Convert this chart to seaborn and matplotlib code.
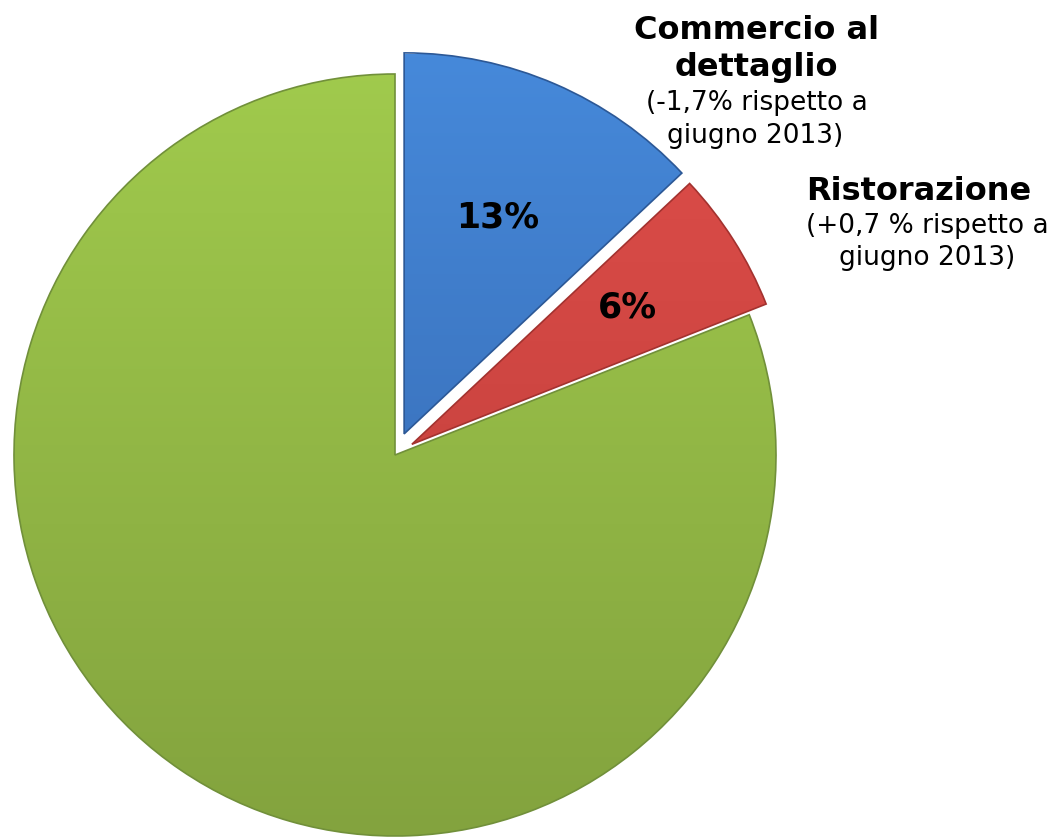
import matplotlib
matplotlib.use("Agg")
import numpy as np
import matplotlib.pyplot as plt
from matplotlib.colors import to_rgb
import seaborn as sns

# dati
categorie = ["Commercio al dettaglio", "Ristorazione", "Altro"]
quote = [13, 6, 81]
titoli = [["Commercio al", "dettaglio"], ["Ristorazione"]]
variazioni = [["(-1,7% rispetto a", "giugno 2013)"], ["(+0,7 % rispetto a", "giugno 2013)"]]

# stile: colori chiari in alto, scuri in basso
col_alto = ["#4689da", "#df4e4a", "#a1cb4d"]
col_basso = ["#3262a8", "#b93b37", "#83a33e"]
bordi = ["#2c5896", "#a3322f", "#71903a"]

sns.set_theme(style="white")
plt.rcParams['font.family'] = ['DejaVu Sans']

W, H = 1061, 838
fig = plt.figure(figsize=(W / 100, H / 100), dpi=100)
ax = fig.add_axes([0, 0, 1, 1])

wedges, texts, autotexts = ax.pie(
    quote,
    explode=[23, 20, 0],
    colors=col_basso,
    startangle=90,
    counterclock=False,
    center=(395, H - 455),
    radius=381,
    frame=True,
    autopct=lambda p: f"{p:.0f}%" if p < 50 else "",
    pctdistance=0.62,
    wedgeprops=dict(linewidth=1.2),
    textprops=dict(fontsize=25, fontweight="bold", color="black"),
)

# sfumatura verticale dentro ogni fetta
t = np.linspace(0, 1, 256)[:, None]
for w, ca, cb, b in zip(wedges, col_alto, col_basso, bordi):
    a, c = np.array(to_rgb(ca)), np.array(to_rgb(cb))
    img = (a[None, None, :] * (1 - t[..., None]) + c[None, None, :] * t[..., None])
    im = ax.imshow(img, extent=(0, W, H - 836, H - 55), aspect="auto",
                   origin="upper", zorder=w.get_zorder() + 0.1)
    im.set_clip_path(w)
    w.set_edgecolor(b)
    w.set_zorder(w.get_zorder() + 0.2)
    w.set_facecolor("none")

# posizione delle percentuali
for w, txt, d in zip(wedges, autotexts, [0.62, 0.67, 0.6]):
    cx, cy = w.center
    th = np.deg2rad((w.theta1 + w.theta2) / 2)
    txt.set_position((cx + d * w.r * np.cos(th), cy + d * w.r * np.sin(th)))
    txt.set_zorder(5)

ax.set_xlim(0, W)
ax.set_ylim(0, H)
ax.set_aspect("equal")
ax.axis("off")

# etichette delle categorie (linee di base in pixel dall'alto)
for testo, x, y in [(titoli[0][0], 757, 39), (titoli[0][1], 756, 76),
                    (titoli[1][0], 919, 200)]:
    ax.text(x, H - y, testo, ha="center", va="baseline", fontsize=23,
            fontweight="bold", color="black")
for testo, x, y in [(variazioni[0][0], 757, 110), (variazioni[0][1], 755, 143),
                    (variazioni[1][0], 927, 233), (variazioni[1][1], 927, 265)]:
    ax.text(x, H - y, testo, ha="center", va="baseline", fontsize=19,
            color="black")

fig.savefig("out.png", dpi=100)
